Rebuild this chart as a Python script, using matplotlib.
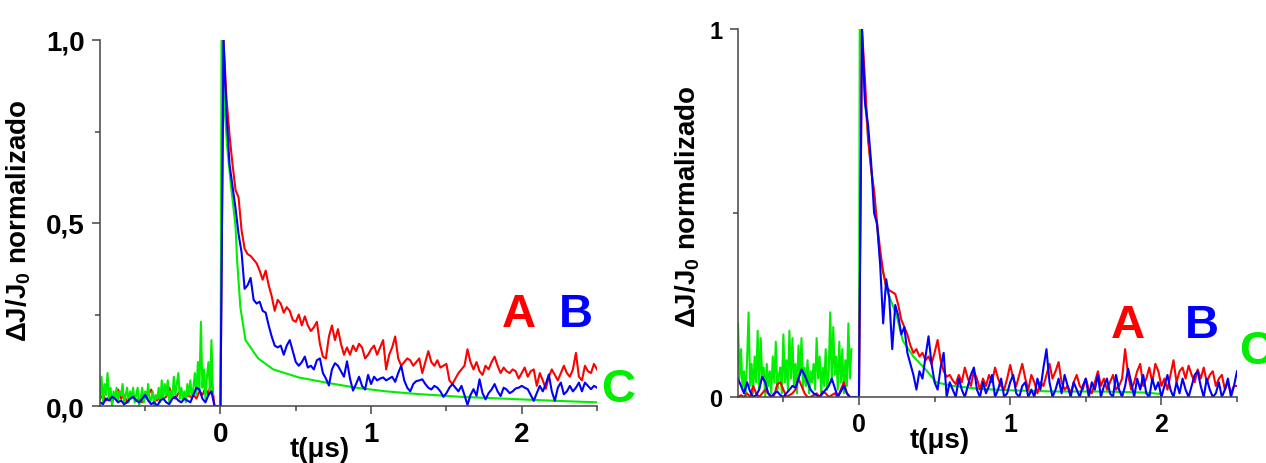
import numpy as np
import matplotlib.pyplot as plt

plt.rcParams['font.family'] = ['Liberation Sans', 'DejaVu Sans']
plt.rcParams['font.weight'] = 'bold'
plt.rcParams['mathtext.fontset'] = 'custom'
plt.rcParams['mathtext.rm'] = 'Liberation Sans:bold'
plt.rcParams['mathtext.bf'] = 'Liberation Sans:bold'
plt.rcParams['mathtext.default'] = 'bf'

RED = '#ff0000'
BLUE = '#0000ff'
GREEN = '#00ee00'

# ---- left panel: normalised photocurrent transients A, B, C ----
# pre-trigger noise (red/blue every 0.02 us from -0.80, green every 0.01 us)
left_A_pre = [0.02, 0.03, 0.015, 0.025, 0.01, 0.03, 0.045, 0.02, 0.03, 0.01,
              0.025, 0.03, 0.015, 0.02, 0.01, 0.025, 0.03, 0.045, 0.02, 0.015,
              0.03, 0.02, 0.025, 0.05, 0.03, 0.02, 0.035, 0.04, 0.02, 0.03,
              0.025, 0.03, 0.02, 0.04, 0.03, 0.05, 0.03, 0.075, 0.0, 0.0]
left_B_pre = [0.01, 0.005, 0.02, 0.015, 0.025, 0.02, 0.01, 0.015, 0.005, 0.01,
              0.02, 0.025, 0.015, 0.01, 0.02, 0.03, 0.015, 0.005, 0.01, 0.0,
              0.015, 0.02, 0.01, 0.005, 0.02, 0.025, 0.015, 0.01, 0.02, 0.015,
              0.01, 0.03, 0.05, 0.045, 0.02, 0.01, 0.03, 0.04, 0.0, 0.0]
left_C_pre = [0.02, 0.08, 0.01, 0.06, 0.03, 0.09, 0.02, 0.05, 0.0, 0.04,
              0.02, 0.05, 0.01, 0.04, 0.03, 0.06, 0.0, 0.03, 0.05, 0.01,
              0.04, 0.02, 0.05, 0.01, 0.03, 0.05, 0.0, 0.02, 0.05, 0.01,
              0.04, 0.02, 0.06, 0.01, 0.02, 0.04, 0.0, 0.03, 0.02, 0.05,
              0.01, 0.07, 0.02, 0.06, 0.03, 0.07, 0.01, 0.04, 0.02, 0.08,
              0.03, 0.06, 0.09, 0.02, 0.05, 0.02, 0.04, 0.01, 0.06, 0.03,
              0.07, 0.02, 0.05, 0.09, 0.03, 0.12, 0.04, 0.23, 0.05, 0.10,
              0.02, 0.08, 0.12, 0.04, 0.18, 0.03]

# decay after the pulse, every 0.02 us from 0 to 2.5
left_A = [0.0, 1.0, 0.84, 0.74, 0.66, 0.59, 0.57, 0.48, 0.43, 0.415,
          0.41, 0.40, 0.39, 0.37, 0.345, 0.37, 0.33, 0.30, 0.26, 0.29,
          0.28, 0.255, 0.27, 0.26, 0.235, 0.23, 0.25, 0.22, 0.245, 0.22,
          0.205, 0.215, 0.23, 0.17, 0.135, 0.13, 0.19, 0.22, 0.18, 0.21,
          0.17, 0.14, 0.16, 0.14, 0.165, 0.15, 0.17, 0.16, 0.13, 0.14,
          0.155, 0.165, 0.14, 0.16, 0.18, 0.10, 0.14, 0.16, 0.19, 0.13,
          0.11, 0.12, 0.13, 0.125, 0.11, 0.12, 0.13, 0.09, 0.12, 0.15,
          0.12, 0.11, 0.125, 0.105, 0.11, 0.115, 0.07, 0.06, 0.075, 0.09,
          0.10, 0.11, 0.155, 0.12, 0.10, 0.12, 0.095, 0.085, 0.11, 0.10,
          0.12, 0.135, 0.11, 0.09, 0.105, 0.095, 0.09, 0.10, 0.095, 0.075,
          0.09, 0.105, 0.08, 0.095, 0.10, 0.055, 0.09, 0.07, 0.047, 0.08,
          0.10, 0.085, 0.07, 0.09, 0.11, 0.09, 0.08, 0.10, 0.145, 0.08,
          0.07, 0.11, 0.095, 0.09, 0.115, 0.10]
left_B = [0.0, 1.0, 0.80, 0.66, 0.60, 0.54, 0.47, 0.42, 0.32, 0.33,
          0.35, 0.29, 0.28, 0.285, 0.26, 0.255, 0.22, 0.19, 0.165, 0.16,
          0.165, 0.14, 0.165, 0.18, 0.15, 0.12, 0.11, 0.12, 0.135, 0.105,
          0.11, 0.10, 0.125, 0.13, 0.09, 0.075, 0.056, 0.10, 0.117, 0.11,
          0.095, 0.08, 0.122, 0.075, 0.042, 0.06, 0.08, 0.055, 0.045, 0.085,
          0.06, 0.08, 0.07, 0.075, 0.078, 0.07, 0.075, 0.08, 0.066, 0.09,
          0.11, 0.07, 0.05, 0.04, 0.06, 0.068, 0.07, 0.073, 0.06, 0.05,
          0.045, 0.055, 0.05, 0.04, 0.025, 0.035, 0.05, 0.06, 0.05, 0.04,
          0.055, 0.03, 0.003, 0.03, 0.046, 0.028, 0.073, 0.035, 0.018, 0.035,
          0.045, 0.06, 0.04, 0.027, 0.05, 0.045, 0.035, 0.04, 0.048, 0.05,
          0.055, 0.05, 0.046, 0.03, 0.014, 0.035, 0.055, 0.04, 0.06, 0.086,
          0.04, 0.014, 0.05, 0.064, 0.032, 0.04, 0.055, 0.04, 0.05, 0.064,
          0.04, 0.064, 0.055, 0.046, 0.055, 0.05]
left_C_t = [0.0, 0.007, 0.02, 0.044, 0.07, 0.10, 0.11, 0.132, 0.166, 0.25,
            0.35, 0.52, 0.70, 0.90, 1.10, 1.30, 1.60, 2.00, 2.30, 2.50]
left_C = [0.0, 1.0, 0.86, 0.71, 0.60, 0.49, 0.40, 0.27, 0.18, 0.13,
          0.10, 0.078, 0.064, 0.050, 0.040, 0.033, 0.025, 0.018, 0.013, 0.010]

# ---- right panel ----
right_A_pre = [0.0, 0.005, 0.0, 0.01, 0.0, 0.03, 0.01, 0.0, 0.01, 0.02,
               0.01, 0.0, 0.005, 0.035, 0.04, 0.02, 0.0, 0.005, 0.01, 0.02,
               0.05, 0.03, 0.01, 0.0, 0.0, 0.005, 0.01, 0.0, 0.015, 0.01,
               0.0, 0.005, 0.01, 0.0, 0.02, 0.04, 0.01, 0.0, 0.0, 0.0]
right_B_pre = [0.05, 0.03, 0.01, 0.04, 0.015, 0.0, 0.005, 0.02, 0.055, 0.04,
               0.01, 0.0, 0.01, 0.015, 0.005, 0.0, 0.01, 0.02, 0.03, 0.025,
               0.05, 0.075, 0.06, 0.04, 0.02, 0.01, 0.005, 0.0, 0.01, 0.02,
               0.03, 0.05, 0.025, 0.0, 0.015, 0.03, 0.01, 0.0, 0.0, 0.0]
right_C_pre = [0.20, 0.05, 0.13, 0.02, 0.07, 0.0, 0.10, 0.23, 0.03, 0.09,
               0.01, 0.11, 0.04, 0.18, 0.02, 0.16, 0.05, 0.08, 0.0, 0.09,
               0.03, 0.07, 0.01, 0.11, 0.04, 0.15, 0.02, 0.06, 0.08, 0.01,
               0.17, 0.04, 0.10, 0.02, 0.18, 0.05, 0.16, 0.03, 0.09, 0.01,
               0.14, 0.06, 0.16, 0.02, 0.08, 0.03, 0.10, 0.01, 0.07, 0.04,
               0.09, 0.02, 0.16, 0.05, 0.11, 0.01, 0.08, 0.03, 0.13, 0.02,
               0.07, 0.23, 0.04, 0.19, 0.06, 0.11, 0.02, 0.15, 0.04, 0.13,
               0.01, 0.10, 0.03, 0.20, 0.05, 0.13]

right_A = [0.0, 1.0, 0.86, 0.70, 0.62, 0.56, 0.47, 0.40, 0.34, 0.30,
           0.29, 0.285, 0.28, 0.25, 0.21, 0.19, 0.17, 0.14, 0.12, 0.13,
           0.11, 0.12, 0.10, 0.11, 0.09, 0.12, 0.155, 0.10, 0.07, 0.055,
           0.06, 0.045, 0.035, 0.06, 0.04, 0.08, 0.05, 0.03, 0.07, 0.05,
           0.02, 0.05, 0.03, 0.06, 0.04, 0.08, 0.05, 0.03, 0.02, 0.05,
           0.087, 0.05, 0.03, 0.06, 0.09, 0.05, 0.02, 0.06, 0.04, 0.01,
           0.04, 0.03, 0.06, 0.09, 0.05, 0.07, 0.095, 0.04, 0.02, 0.03,
           0.01, 0.04, 0.06, 0.03, 0.02, 0.05, 0.02, 0.01, 0.04, 0.07,
           0.03, 0.05, 0.02, 0.04, 0.06, 0.02, 0.03, 0.05, 0.13, 0.06,
           0.02, 0.04, 0.07, 0.09, 0.03, 0.05, 0.08, 0.04, 0.09, 0.07,
           0.03, 0.05, 0.02, 0.06, 0.10, 0.04, 0.07, 0.08, 0.05, 0.085,
           0.06, 0.04, 0.075, 0.05, 0.08, 0.04, 0.06, 0.07, 0.03, 0.05,
           0.06, 0.02, 0.04, 0.01, 0.03, 0.03]
right_B = [0.0, 1.0, 0.80, 0.74, 0.64, 0.50, 0.47, 0.36, 0.20, 0.32,
           0.27, 0.13, 0.25, 0.22, 0.17, 0.19, 0.12, 0.09, 0.06, 0.02,
           0.07, 0.05, 0.11, 0.165, 0.09, 0.04, 0.02, 0.08, 0.12, 0.0,
           0.04, 0.02, 0.0, 0.05, 0.02, 0.0, 0.03, 0.06, 0.08, 0.02,
           0.0, 0.04, 0.01, 0.03, 0.06, 0.0, 0.02, 0.05, 0.0, 0.01,
           0.04, 0.06, 0.01, 0.0, 0.03, 0.04, 0.0, 0.02, 0.0, 0.05,
           0.02, 0.08, 0.13, 0.04, 0.0, 0.02, 0.05, 0.01, 0.06, 0.03,
           0.0, 0.04, 0.02, 0.0, 0.03, 0.05, 0.0, 0.04, 0.02, 0.06,
           0.0, 0.03, 0.05, 0.01, 0.0, 0.06, 0.02, 0.0, 0.03, 0.077,
           0.04, 0.0, 0.05, 0.02, 0.06, 0.01, 0.0, 0.05, 0.02, 0.04,
           0.0, 0.03, 0.06, 0.02, 0.0, 0.04, 0.01, 0.05, 0.02, 0.0,
           0.03, 0.06, 0.07, 0.03, 0.0, 0.05, 0.02, 0.0, 0.01, 0.04,
           0.0, 0.02, 0.05, 0.0, 0.03, 0.07]
right_C_t = [0.0, 0.005, 0.02, 0.04, 0.073, 0.10, 0.139, 0.185, 0.25, 0.29,
             0.36, 0.447, 0.51, 0.62, 0.80, 1.00, 1.30, 1.60, 1.90, 2.00]
right_C = [0.0, 1.0, 0.95, 0.80, 0.65, 0.55, 0.38, 0.29, 0.22, 0.153,
           0.11, 0.072, 0.040, 0.030, 0.022, 0.018, 0.015, 0.015, 0.012, 0.008]


def pre_t(vals, stop):
    return np.linspace(-0.8, stop, len(vals))


def post_t(vals):
    return np.linspace(0.0, 2.5, len(vals))


def style(ax, ylim_top, ymajor, ylabels, yminor, size):
    ax.set_xlim(-0.8, 2.5)
    ax.set_ylim(0, ylim_top)
    for s in ('top', 'right'):
        ax.spines[s].set_visible(False)
    for s in ('left', 'bottom'):
        ax.spines[s].set_color('#444444')
        ax.spines[s].set_linewidth(1.1)
    ax.set_xticks([0, 1, 2])
    ax.set_xticks([-0.5, 0.5, 1.5, 2.5], minor=True)
    ax.set_yticks(ymajor)
    ax.set_yticklabels(ylabels)
    ax.set_yticks(yminor, minor=True)
    ax.tick_params(which='major', direction='out', length=6, width=1.1,
                   color='#444444', labelsize=size, pad=5)
    ax.tick_params(which='minor', direction='out', length=3.5, width=1.1,
                   color='#444444')
    ax.tick_params(axis='x', labelsize=20)
    for lab in ax.get_xticklabels() + ax.get_yticklabels():
        lab.set_fontweight('bold')
    ax.set_ylabel('ΔJ/J$_0$ normalizado', fontsize=20, fontweight='bold')
    ax.set_xlabel('t(μs)', fontsize=20, fontweight='bold')


fig = plt.figure(figsize=(12.66, 4.64), dpi=100)
ax1 = fig.add_axes([100 / 1266, 1 - 407 / 464, 497 / 1266, 366 / 464])
ax2 = fig.add_axes([738 / 1266, 1 - 398 / 464, 499 / 1266, 368 / 464])

lw = 1.5
# left: red under green, blue on top
ax1.plot(pre_t(left_A_pre, -0.02), left_A_pre, color=RED, lw=lw)
ax1.plot(post_t(left_A), left_A, color=RED, lw=lw)
ax1.plot(pre_t(left_C_pre, -0.05), left_C_pre, color=GREEN, lw=lw)
ax1.plot(left_C_t, left_C, color=GREEN, lw=lw)
ax1.plot(pre_t(left_B_pre, -0.02), left_B_pre, color=BLUE, lw=lw)
ax1.plot(post_t(left_B), left_B, color=BLUE, lw=lw)

# right: green underneath
ax2.plot(pre_t(right_C_pre, -0.05), right_C_pre, color=GREEN, lw=lw)
ax2.plot(right_C_t, right_C, color=GREEN, lw=lw)
ax2.plot(pre_t(right_A_pre, -0.02), right_A_pre, color=RED, lw=lw)
ax2.plot(post_t(right_A), right_A, color=RED, lw=lw)
ax2.plot(pre_t(right_B_pre, -0.02), right_B_pre, color=BLUE, lw=lw)
ax2.plot(post_t(right_B), right_B, color=BLUE, lw=lw)

style(ax1, 1.0, [0, 0.5, 1.0], ['0,0', '0,5', '1,0'], [0.25, 0.75], 20)
style(ax2, 1.0, [0, 1.0], ['0', '1'], [0.5], 17)
ax2.tick_params(axis='x', labelsize=18)
for lab in ax2.get_xticklabels():
    lab.set_fontweight('bold')

ax1.xaxis.set_label_coords(0.443, -0.082)
ax1.yaxis.set_label_coords(-0.135, 0.51)
ax2.xaxis.set_label_coords(0.405, -0.082)
ax2.yaxis.set_label_coords(-0.072, 0.52)

# curve letters
kw = dict(fontsize=34, fontweight='bold', va='center', clip_on=False)
ax1.text(1.98, 0.251, 'A', color=RED, ha='center', **kw)
ax1.text(2.36, 0.251, 'B', color=BLUE, ha='center', **kw)
ax1.text(2.64, 0.046, 'C', color=GREEN, ha='center', **kw)
ax2.text(1.776, 0.196, 'A', color=RED, ha='center', **kw)
ax2.text(2.27, 0.196, 'B', color=BLUE, ha='center', **kw)
ax2.text(2.515, 0.125, 'C', color=GREEN, ha='left', **kw)

fig.savefig('out.png', dpi=100)
